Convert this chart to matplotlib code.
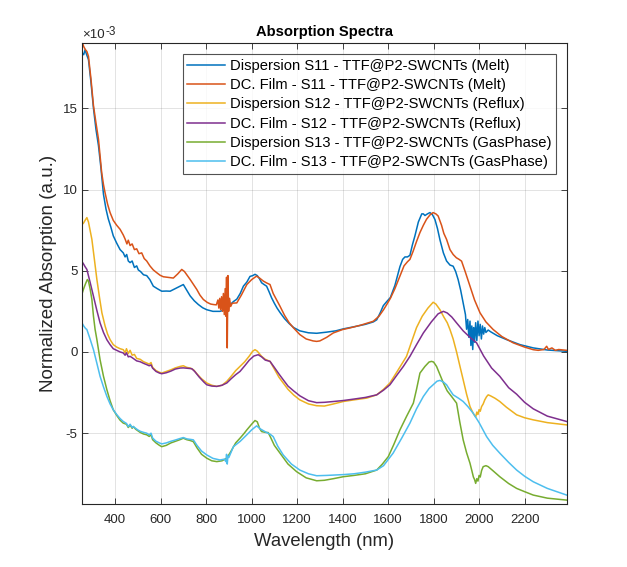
import matplotlib
matplotlib.use("Agg")
import matplotlib.pyplot as plt
from matplotlib.ticker import FixedLocator, FixedFormatter
import numpy as np

plt.rcParams['font.family'] = ['Liberation Sans', 'DejaVu Sans']
plt.rcParams['axes.unicode_minus'] = False

# ---------------- data (values in units of 1e-3) ----------------
labels = [
    "Dispersion S11 - TTF@P2-SWCNTs (Melt)",
    "DC. Film - S11 - TTF@P2-SWCNTs (Melt)",
    "Dispersion S12 - TTF@P2-SWCNTs (Reflux)",
    "DC. Film - S12 - TTF@P2-SWCNTs (Reflux)",
    "Dispersion S13 - TTF@P2-SWCNTs (GasPhase)",
    "DC. Film - S13 - TTF@P2-SWCNTs (GasPhase)",
]
colors = ["#0072BD", "#D95319", "#EDB120", "#7E2F8E", "#77AC30", "#4DBEEE"]

wl_disp_s11 = [256,262,268,275,283,294,305,316,327,338,349,360,370,381,392,407,422,436,444,451,458,466,475,485,495,502,512,525,539,553,568,585,605,625,642,665,686,700,715,730,748,766,785,803,830,861,885,905,920,935,950,964,979,993,1005,1015,1025,1035,1044,1055,1066,1077,1088,1100,1112,1125,1145,1165,1185,1212,1250,1286,1330,1370,1403,1450,1500,1535,1550,1565,1579,1594,1610,1630,1652,1664,1674,1685,1696,1707,1718,1733,1748,1755,1762,1773,1784,1795,1806,1817,1828,1843,1857,1872,1886,1897,1908,1919,1930,1940,1945,1950,1955,1960,1964,1968,1972,1976,1980,1985,1990,1995,2000,2005,2010,2015,2020,2025,2030,2040,2050,2080,2121,2180,2238,2300,2385]
ab_disp_s11 = [18.4,18.3,18.6,18.3,18.0,16.6,15.0,13.7,12.7,11.3,9.7,8.8,8.2,7.7,7.15,6.7,6.3,6.1,5.85,6.0,5.6,5.5,5.6,5.2,5.3,5.05,4.95,4.75,4.7,4.45,4.05,3.9,3.74,3.75,3.74,3.9,4.05,4.15,3.8,3.45,3.15,2.92,2.72,2.6,2.5,2.5,2.6,2.9,3.1,3.25,3.6,4.05,4.3,4.65,4.7,4.78,4.7,4.5,4.26,4.15,4.05,3.7,3.33,3.0,2.7,2.43,2.05,1.75,1.5,1.3,1.18,1.15,1.22,1.3,1.42,1.55,1.7,1.85,1.98,2.4,2.85,3.1,3.35,4.1,5.25,5.7,5.85,5.85,5.95,6.6,7.15,8.0,8.5,8.5,8.4,8.5,8.58,8.45,8.15,7.6,6.9,6.1,5.6,5.35,5.28,4.95,4.45,3.8,3.0,2.3,1.4,2.0,0.9,1.9,0.4,1.6,0.15,1.5,0.6,1.8,0.7,1.9,1.0,1.7,0.8,1.6,1.1,1.5,1.2,1.35,1.25,1.0,0.76,0.45,0.25,0.12,0.04]

wl_film_s11 = [256,262,270,276,283,294,305,316,327,341,349,356,367,378,392,407,422,436,444,452,458,466,475,485,495,505,517,528,539,553,568,583,598,612,630,656,675,693,705,718,730,745,759,773,788,805,820,832,845,852,856,860,864,868,872,876,880,884,887,890,893,896,899,903,908,915,935,955,979,1000,1022,1035,1052,1066,1081,1095,1110,1125,1145,1165,1183,1200,1212,1240,1270,1286,1300,1330,1359,1400,1432,1480,1535,1560,1580,1594,1610,1630,1652,1670,1685,1696,1710,1725,1740,1755,1769,1785,1798,1810,1820,1835,1845,1857,1872,1886,1900,1912,1923,1940,1960,1980,2004,2030,2062,2100,2150,2200,2238,2260,2285,2297,2305,2320,2335,2350,2385]
ab_film_s11 = [19.07,18.8,18.6,18.5,18.2,16.8,15.16,14.1,13.1,11.05,10.3,9.8,9.1,8.58,8.1,7.8,7.55,7.2,6.95,6.65,6.88,6.55,6.65,6.3,6.35,6.05,6.1,5.75,5.6,5.3,5.05,4.88,4.72,4.63,4.6,4.55,4.8,5.08,4.95,4.7,4.46,4.15,3.85,3.5,3.23,3.05,2.95,2.92,2.9,3.2,2.7,3.3,2.6,3.4,2.5,3.6,2.3,3.9,2.2,4.6,0.25,4.7,2.5,3.3,2.8,3.0,3.02,3.5,4.15,4.45,4.67,4.55,4.36,4.25,4.15,3.6,3.2,2.81,2.25,1.8,1.5,1.25,1.07,0.8,0.68,0.65,0.68,0.9,1.17,1.38,1.48,1.65,1.89,2.2,2.6,2.92,3.3,3.9,4.67,5.3,5.55,5.7,6.2,6.8,7.35,7.8,8.17,8.45,8.58,8.5,8.37,7.8,7.3,6.93,6.3,6.0,5.8,5.7,5.59,4.9,4.05,3.2,2.41,1.85,1.38,0.95,0.56,0.3,0.14,0.1,0.15,0.35,0.15,0.25,0.1,0.15,0.1]

wl_disp_s12 = [256,262,268,276,283,290,298,309,320,331,342,356,367,378,392,407,422,436,444,450,458,466,475,485,495,510,525,539,550,558,565,580,595,605,625,645,665,686,700,715,730,745,760,780,803,825,847,870,891,910,930,949,970,990,1005,1015,1025,1044,1060,1081,1100,1120,1139,1160,1185,1212,1250,1286,1320,1360,1403,1450,1506,1550,1580,1608,1640,1681,1710,1725,1750,1775,1798,1810,1828,1845,1860,1872,1886,1901,1916,1930,1945,1960,1968,1975,1980,1985,1990,1995,2000,2005,2011,2018,2025,2033,2040,2050,2070,2091,2120,2165,2200,2238,2300,2385]
ab_disp_s12 = [7.86,7.95,8.1,8.27,8.0,7.5,6.93,5.7,4.46,3.4,2.41,1.6,1.1,0.76,0.45,0.3,0.2,0.14,-0.05,0.2,-0.1,0.1,-0.2,-0.15,-0.4,-0.45,-0.6,-0.68,-0.75,-0.65,-0.95,-1.15,-1.25,-1.3,-1.2,-1.1,-0.98,-0.89,-0.85,-0.95,-0.99,-1.1,-1.35,-1.65,-1.91,-2.05,-2.12,-2.05,-1.81,-1.5,-1.15,-0.89,-0.6,-0.25,0.05,0.14,0.05,-0.27,-0.45,-0.58,-1.05,-1.55,-1.91,-2.3,-2.65,-2.95,-3.2,-3.31,-3.33,-3.2,-3.05,-2.95,-2.84,-2.64,-2.3,-1.91,-1.2,-0.27,0.9,1.5,2.2,2.7,3.06,2.95,2.6,2.15,1.8,1.38,0.8,0.0,-0.89,-1.71,-2.6,-3.36,-3.6,-3.8,-3.9,-4.01,-3.7,-3.85,-3.55,-3.65,-3.36,-3.2,-2.95,-2.75,-2.64,-2.7,-2.85,-3.05,-3.4,-3.87,-4.05,-4.18,-4.35,-4.49]

wl_film_s12 = [256,262,268,276,290,305,320,334,349,364,378,392,407,422,436,444,450,458,466,475,485,495,510,525,539,550,558,565,580,595,605,625,645,665,686,700,715,737,750,770,790,803,825,847,870,891,910,930,949,970,990,1010,1029,1044,1060,1081,1100,1120,1139,1160,1185,1212,1250,1286,1320,1360,1403,1450,1500,1550,1580,1608,1640,1667,1696,1725,1755,1790,1820,1843,1860,1880,1901,1930,1960,1989,2020,2055,2091,2130,2165,2200,2238,2300,2385]
ab_film_s12 = [5.53,5.4,5.25,5.08,4.3,3.43,2.55,1.79,1.2,0.75,0.45,0.2,0.1,0.0,-0.06,-0.2,-0.05,-0.3,-0.27,-0.35,-0.45,-0.55,-0.6,-0.7,-0.78,-0.85,-0.8,-1.0,-1.2,-1.3,-1.34,-1.28,-1.18,-1.05,-0.99,-0.98,-1.0,-1.03,-1.2,-1.55,-1.85,-2.02,-2.1,-2.12,-2.05,-1.91,-1.65,-1.4,-1.2,-0.85,-0.5,-0.25,-0.17,-0.3,-0.5,-0.58,-0.95,-1.35,-1.71,-2.1,-2.4,-2.7,-3.0,-3.12,-3.1,-3.05,-2.99,-2.9,-2.8,-2.64,-2.35,-2.02,-1.4,-0.89,-0.27,0.45,1.17,1.85,2.35,2.5,2.4,2.15,1.79,1.3,0.9,0.56,-0.25,-0.99,-1.5,-2.2,-2.6,-3.1,-3.5,-3.95,-4.28]

wl_disp_s13 = [256,262,270,278,283,290,298,305,312,320,334,349,364,378,392,407,422,436,450,458,466,475,480,490,500,510,525,539,550,558,565,580,595,605,625,645,665,685,700,715,730,744,760,780,803,825,847,870,891,910,930,949,965,979,1000,1015,1025,1035,1044,1060,1073,1085,1100,1125,1160,1198,1240,1286,1320,1360,1403,1450,1500,1550,1575,1601,1625,1652,1681,1711,1725,1740,1762,1780,1791,1800,1813,1828,1843,1860,1879,1901,1915,1930,1945,1960,1968,1975,1980,1985,1990,1995,2000,2005,2011,2018,2030,2040,2060,2091,2130,2165,2200,2238,2300,2385]
ab_disp_s13 = [3.64,3.9,4.2,4.46,4.36,3.9,3.23,2.2,1.4,0.76,-0.48,-1.5,-2.33,-3.0,-3.56,-3.9,-4.2,-4.38,-4.45,-4.65,-4.5,-4.7,-4.59,-4.75,-4.85,-4.95,-5.05,-5.1,-5.2,-5.1,-5.4,-5.6,-5.75,-5.83,-5.75,-5.6,-5.5,-5.4,-5.31,-5.4,-5.45,-5.52,-5.9,-6.3,-6.54,-6.7,-6.75,-6.7,-6.54,-6.1,-5.6,-5.31,-5.05,-4.8,-4.45,-4.22,-4.3,-4.7,-4.9,-4.95,-4.96,-5.3,-5.75,-6.23,-6.9,-7.37,-7.75,-7.93,-7.9,-7.8,-7.68,-7.6,-7.5,-7.27,-6.9,-6.44,-5.7,-4.8,-3.97,-3.15,-2.3,-1.3,-0.89,-0.62,-0.58,-0.62,-0.89,-1.4,-1.91,-2.4,-2.74,-3.15,-4.3,-5.41,-6.2,-6.85,-7.3,-7.7,-7.85,-8.09,-7.8,-7.95,-7.6,-7.7,-7.3,-7.06,-7.0,-7.06,-7.3,-7.68,-8.1,-8.4,-8.6,-8.81,-9.0,-9.12]

wl_film_s13 = [256,262,270,276,290,305,320,334,349,364,378,392,407,422,436,450,458,466,475,480,490,500,510,525,539,550,558,565,580,595,605,625,645,665,685,700,715,730,744,760,780,803,830,861,880,887,890,893,896,900,920,950,979,1000,1022,1040,1066,1080,1095,1115,1139,1175,1212,1250,1286,1330,1403,1450,1500,1550,1580,1622,1660,1696,1725,1755,1780,1798,1815,1828,1843,1857,1872,1886,1910,1930,1950,1974,2000,2033,2060,2091,2130,2165,2200,2238,2300,2385]
ab_film_s13 = [1.75,1.6,1.45,1.38,0.8,0.14,-0.7,-1.5,-2.15,-2.74,-3.2,-3.56,-3.85,-4.1,-4.28,-4.4,-4.6,-4.45,-4.65,-4.59,-4.7,-4.8,-4.88,-4.95,-5.0,-5.1,-5.0,-5.3,-5.5,-5.6,-5.66,-5.6,-5.5,-5.42,-5.33,-5.27,-5.35,-5.38,-5.41,-5.75,-6.1,-6.34,-6.55,-6.65,-6.6,-6.75,-6.3,-6.9,-6.4,-6.5,-5.83,-5.5,-5.1,-4.8,-4.55,-4.75,-4.96,-5.05,-5.21,-5.8,-6.34,-6.9,-7.27,-7.5,-7.62,-7.6,-7.55,-7.5,-7.4,-7.27,-7.0,-6.23,-5.3,-4.38,-3.5,-2.74,-2.25,-2.02,-1.8,-1.75,-1.85,-2.02,-2.35,-2.64,-2.85,-3.05,-3.35,-3.77,-4.35,-5.21,-5.75,-6.23,-6.8,-7.27,-7.65,-7.99,-8.4,-8.81]

series = [
    (wl_disp_s11, ab_disp_s11),
    (wl_film_s11, ab_film_s11),
    (wl_disp_s12, ab_disp_s12),
    (wl_film_s12, ab_film_s12),
    (wl_disp_s13, ab_disp_s13),
    (wl_film_s13, ab_film_s13),
]

x_ticks = [400, 600, 800, 1000, 1200, 1400, 1600, 1800, 2000, 2200]
y_ticks = [-5, 0, 5, 10, 15]
y_tick_labels = ["-5", "0", "5", "10", "15"]
scale = 1e-3

# ---------------- figure ----------------
fig = plt.figure(figsize=(6.27, 5.67), dpi=100)
ax = fig.add_axes([0.1313, 0.1111, 0.7725, 0.8125])

dark = "#262626"
for (wl, ab), c, lab in zip(series, colors, labels):
    ax.plot(wl, np.array(ab) * scale, color=c, lw=1.1, label=lab)

ax.set_xlim(256, 2385)
ax.set_ylim(-9.36e-3, 19.0e-3)
ax.xaxis.set_major_locator(FixedLocator(x_ticks))
ax.yaxis.set_major_locator(FixedLocator([v * scale for v in y_ticks]))
ax.yaxis.set_major_formatter(FixedFormatter(y_tick_labels))

ax.grid(True, color=dark, alpha=0.15, lw=0.6)
ax.tick_params(direction='in', top=True, right=True, length=4, width=0.6,
               colors=dark, labelsize=9.5, labelcolor=dark)
ax.tick_params(axis='x', pad=7.5)
for s in ax.spines.values():
    s.set_color(dark)
    s.set_linewidth(0.8)

# exponent label (x10^-3) above the y axis
ax.annotate("\u00d710", xy=(0, 1), xycoords='axes fraction', xytext=(0, 5),
            textcoords='offset pixels', fontsize=9.5, color=dark,
            ha='left', va='baseline')
ax.annotate("-3", xy=(0, 1), xycoords='axes fraction', xytext=(23, 8),
            textcoords='offset pixels', fontsize=8.5, color=dark,
            ha='left', va='baseline')

ax.set_title("Absorption Spectra", fontsize=10.6, fontweight='bold', color='black', pad=5)
ax.set_xlabel("Wavelength (nm)", fontsize=13.3, color=dark, labelpad=5)
ax.set_ylabel("Normalized Absorption (a.u.)", fontsize=13.5, color=dark, labelpad=4)

leg = ax.legend(loc='upper right', bbox_to_anchor=(0.977, 0.976), borderaxespad=0,
                fontsize=10.6, frameon=True, fancybox=False, edgecolor=dark,
                handlelength=2.6, handletextpad=0.3, labelspacing=0.36,
                borderpad=0.3, handleheight=0.7)
leg.get_frame().set_linewidth(0.8)
for t in leg.get_texts():
    t.set_color('black')

fig.savefig("out.png", dpi=100, facecolor='white')
